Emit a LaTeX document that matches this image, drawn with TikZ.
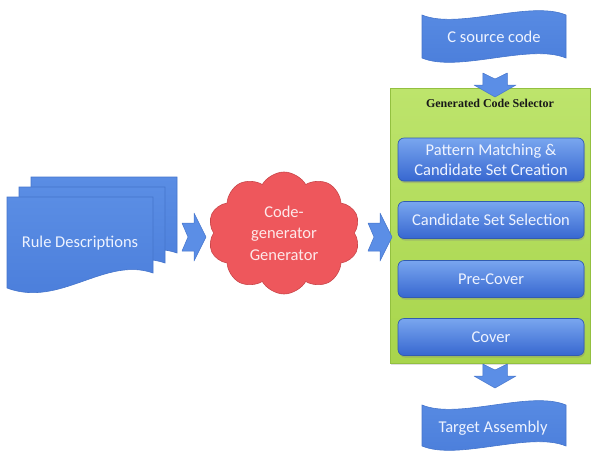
\documentclass[tikz,border=0pt]{standalone}
\usepackage{fontspec}
\setmainfont{Carlito}
\newfontfamily\titlefont{Liberation Serif}
\usetikzlibrary{shapes.symbols,shadows}
\definecolor{bluetop}{HTML}{79A6EF}
\definecolor{bluebot}{HTML}{3767D0}
\definecolor{blueedge}{HTML}{325CB0}
\definecolor{docblue}{HTML}{5A8DE4}
\definecolor{docblue2}{HTML}{4A7DDA}
\definecolor{docedge}{HTML}{4575CC}
\definecolor{arrowblue}{HTML}{5B8EE6}
\definecolor{cloudred}{HTML}{EE575C}
\definecolor{cloudedge}{HTML}{C9464A}
\definecolor{greentop}{HTML}{BDE46C}
\definecolor{greenbot}{HTML}{A8D54C}
\definecolor{greenedge}{HTML}{93C040}
\definecolor{txt}{HTML}{EEF3FF}
\definecolor{cloudtxt}{HTML}{FDE9EA}
\tikzset{
  blubox/.style={draw=blueedge, line width=0.7pt, rounded corners=6pt,
    top color=bluetop, bottom color=bluebot, minimum width=186pt,
    text=txt, font=\fontsize{16.5}{20}\selectfont, align=center,
    drop shadow={opacity=0.35, shadow xshift=1pt, shadow yshift=-2pt}},
  docpage/.style={draw=docedge, line width=0.6pt, top color=docblue, bottom color=docblue2},
  tapeshape/.style={draw=docedge, line width=0.6pt, top color=docblue, bottom color=docblue2},
  lbl/.style={text=txt, font=\fontsize{16.5}{20}\selectfont},
  blockarrow/.pic={
    \filldraw[fill=arrowblue, draw=docedge, line width=0.5pt, line join=round]
      (-12,-14) -- (0,-14) -- (0,-24) -- (12,0) -- (0,24) -- (0,14) -- (-12,14) -- (-6,0) -- cycle;}
}
\begin{document}
\begin{tikzpicture}[x=1pt,y=-1pt]
\useasboundingbox (0,0) rectangle (593,456);

% document stack
\foreach \dx/\dy in {24/-20, 12/-10, 0/0}
  \draw[docpage, shift={(\dx,\dy)}] (7,197) -- (153,197) -- (153,273)
     .. controls (105,256) and (60,308) .. (7,288) -- cycle;
\node[lbl] (rd) at (80,243) {Rule Descriptions};

% cloud
\node[cloud, cloud puffs=10, cloud puff arc=120, aspect=1.25,
      minimum width=152pt, minimum height=122pt, inner sep=0pt,
      fill=cloudred, draw=cloudedge, line width=0.6pt,
      text=cloudtxt, font=\fontsize{16.5}{21.5}\selectfont, align=center]
      (cg) at (284,233) {Code-\\generator\\Generator};

% green container
\node[draw=greenedge, line width=0.6pt, top color=greentop, bottom color=greenbot,
      minimum width=200pt, minimum height=275pt,
      drop shadow={opacity=0.25, shadow xshift=1pt, shadow yshift=-2pt}]
      (gcs) at (490,225.5) {};
\node[font=\titlefont\bfseries\fontsize{12}{14}\selectfont, text=black!90] (title) at (490,103) {Generated Code Selector};

\node[blubox, minimum height=43pt] (b1) at (491,159.5) {Pattern Matching \&\\Candidate Set Creation};
\node[blubox, minimum height=37pt] (b2) at (491,220) {Candidate Set Selection};
\node[blubox, minimum height=37pt] (b3) at (491,279) {Pre-Cover};
\node[blubox, minimum height=37pt] (b4) at (491,337) {Cover};

% tapes
\draw[tapeshape] (422,15) .. controls (458,30) and (530,0) .. (566,15) -- (566,58)
   .. controls (530,43) and (458,73) .. (422,58) -- cycle;
\node[lbl] (csrc) at (494,37) {C source code};
\draw[tapeshape] (422,405) .. controls (458,420) and (530,390) .. (566,405) -- (566,446)
   .. controls (530,431) and (458,461) .. (422,446) -- cycle;
\node[lbl] (tgt) at (493,428) {Target Assembly};

% block arrows
\coordinate (a1) at (194,237);
\coordinate (a2) at (380,237);
\coordinate (a3) at (495,85);
\coordinate (a4) at (495,376);
\pic at (a1) {blockarrow};
\pic at (a2) {blockarrow};
\pic[rotate=-90, yscale=0.875] at (a3) {blockarrow};
\pic[rotate=-90, yscale=0.875] at (a4) {blockarrow};
\end{tikzpicture}
\end{document}
